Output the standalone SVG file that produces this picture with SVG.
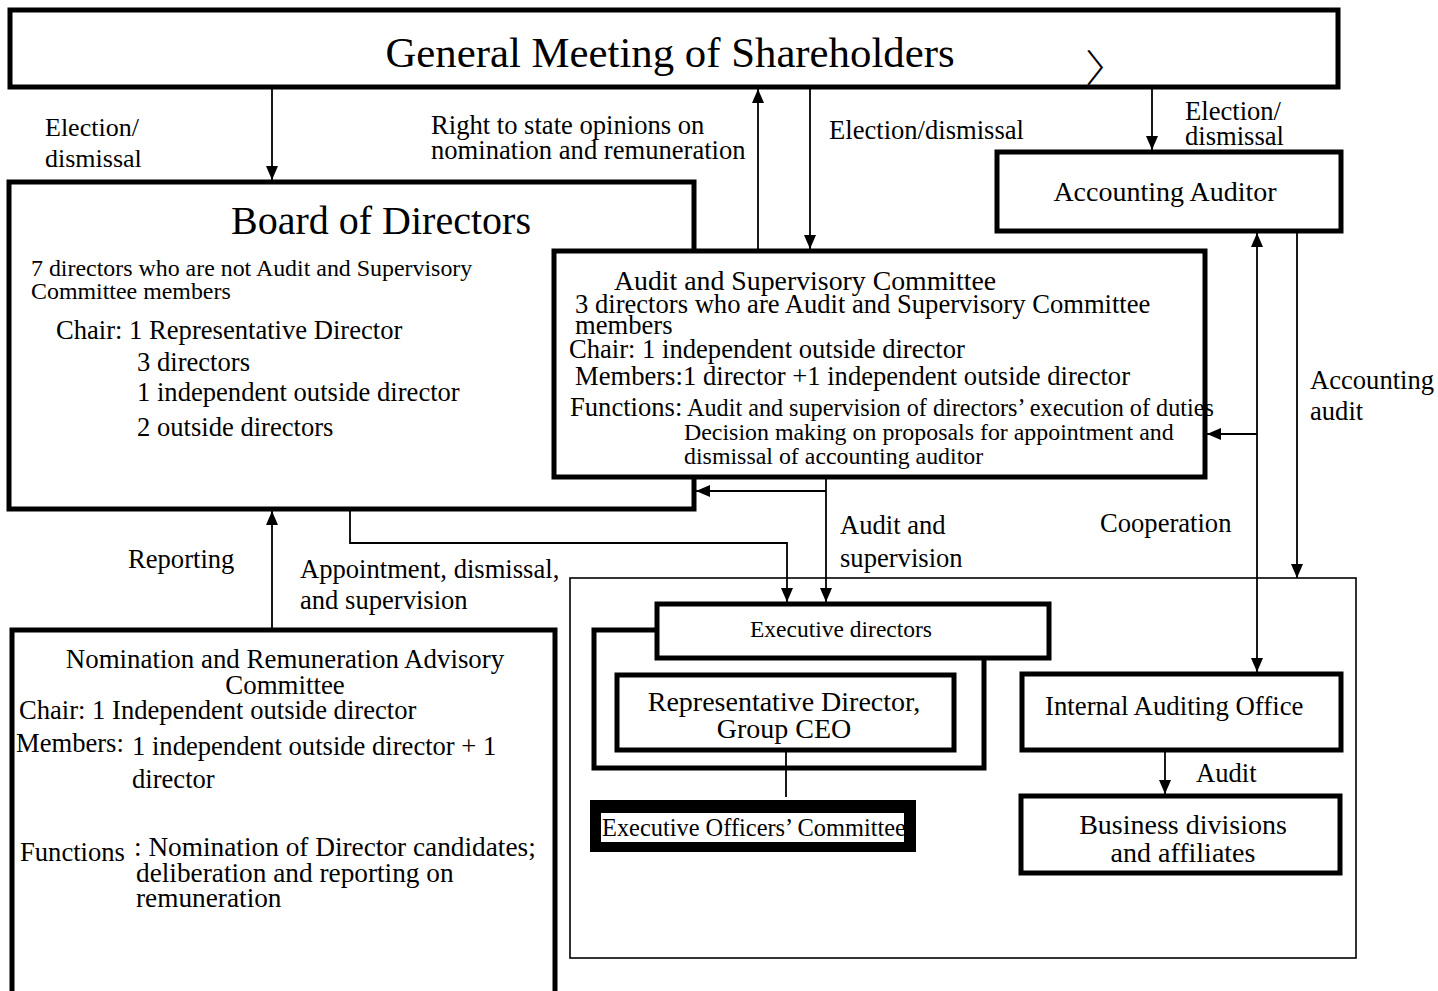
<svg xmlns="http://www.w3.org/2000/svg" width="1438" height="991" viewBox="0 0 1438 991">
<defs>
<marker id="ah" markerUnits="userSpaceOnUse" markerWidth="14" markerHeight="12" refX="14" refY="6" orient="auto-start-reverse">
<path d="M0,0 L14,6 L0,12 z" fill="#000"/>
</marker>
<style>
text{font-family:"Liberation Serif","Times New Roman",serif;fill:#000}
.box{fill:#fff;stroke:#000;stroke-width:5}
.thin{fill:none;stroke:#000;stroke-width:1.6}
.c{fill:none;stroke:#000;stroke-width:1.8}
.a{marker-end:url(#ah)}
.t26{font-size:26.6px}
.t28{font-size:28px}
.mid{text-anchor:middle}
</style>
</defs>
<rect width="1438" height="991" fill="#fff"/>

<g id="general-meeting">
<rect class="box" x="10" y="10" width="1328" height="77"/>
<text x="670" y="67" class="mid" font-size="42.8">General Meeting of Shareholders</text>
<text transform="translate(1085,82) scale(1.2,1)" font-size="38" style="font-family:'Noto Sans CJK JP',sans-serif;font-weight:300">〉</text>
</g>

<g id="accounting-auditor">
<rect class="box" x="997" y="152" width="344" height="79"/>
<text x="1165" y="201" class="mid t28">Accounting Auditor</text>
</g>

<g id="board">
<rect class="box" x="9" y="182" width="685" height="327"/>
<text x="381" y="234" class="mid" font-size="40">Board of Directors</text>
<text x="31" y="276" font-size="23.9">7 directors who are not Audit and Supervisory</text>
<text x="31" y="299" font-size="23.9">Committee members</text>
<text x="56" y="339" class="t26">Chair: 1 Representative Director</text>
<text x="137" y="371" class="t26">3 directors</text>
<text x="137" y="401" class="t26">1 independent outside director</text>
<text x="137" y="436" class="t26">2 outside directors</text>
</g>

<g id="audit-supervisory-committee">
<rect class="box" x="554" y="251" width="651" height="226"/>
<text x="614" y="290" font-size="27.8">Audit and Supervisory Committee</text>
<text x="575" y="313" class="t26">3 directors who are Audit and Supervisory Committee</text>
<text x="575" y="334" class="t26">members</text>
<text x="569" y="358" class="t26">Chair: 1 independent outside director</text>
<text x="575" y="385" class="t26">Members:</text>
<text x="683" y="385" class="t26">1 director +1 independent outside director</text>
<text x="570" y="416" class="t26">Functions:</text>
<text x="687" y="416" font-size="24.2">Audit and supervision of directors’ execution of duties</text>
<text x="684" y="440" font-size="23.9">Decision making on proposals for appointment and</text>
<text x="684" y="464" font-size="23.9">dismissal of accounting auditor</text>
</g>

<g id="nomination-committee">
<rect class="box" x="12" y="630" width="543" height="380"/>
<text x="285" y="668" class="mid" font-size="26.9">Nomination and Remuneration Advisory</text>
<text x="285" y="694" class="mid" font-size="26.9">Committee</text>
<text x="19" y="719" class="t26">Chair: 1 Independent outside director</text>
<text x="16" y="752" class="t26">Members:</text>
<text x="132" y="755" class="t26">1 independent outside director + 1</text>
<text x="132" y="788" class="t26">director</text>
<text x="20" y="861" class="t26">Functions</text>
<text x="134" y="856" font-size="27.3">: Nomination of Director candidates;</text>
<text x="136" y="882" font-size="27.3">deliberation and reporting on</text>
<text x="136" y="907" font-size="27.3">remuneration</text>
</g>

<g id="execution-area">
<rect class="thin" x="570" y="578" width="786" height="380"/>
</g>

<g id="executive-frame">
<rect class="box" x="594" y="630" width="390" height="138"/>
</g>

<g id="executive-directors">
<rect class="box" x="657" y="604" width="392" height="54"/>
<text x="841" y="637" class="mid" font-size="23.5">Executive directors</text>
</g>

<g id="representative-director">
<rect class="box" x="617" y="675" width="337" height="75"/>
<text x="784" y="711" class="mid t28">Representative Director,</text>
<text x="784" y="738" class="mid t28">Group CEO</text>
</g>

<g id="executive-officers-committee">
<rect x="590" y="800" width="326" height="52" fill="#000"/>
<rect x="601" y="813" width="303" height="29" fill="#fff"/>
<text x="602" y="836" font-size="24.4">Executive Officers’ Committee</text>
</g>

<g id="internal-auditing-office">
<rect class="box" x="1022" y="674" width="319" height="76"/>
<text x="1045" y="715" font-size="26.8">Internal Auditing Office</text>
</g>

<g id="business-divisions">
<rect class="box" x="1021" y="796" width="319" height="77"/>
<text x="1183" y="834" class="mid t28">Business divisions</text>
<text x="1183" y="862" class="mid t28">and affiliates</text>
</g>

<g id="connectors">
<line class="c a" x1="272" y1="89" x2="272" y2="180"/>
<line class="c a" x1="272" y1="628" x2="272" y2="511"/>
<line class="c a" x1="758" y1="249" x2="758" y2="89"/>
<line class="c a" x1="810" y1="89" x2="810" y2="249"/>
<line class="c a" x1="1152" y1="89" x2="1152" y2="150"/>
<line class="c" x1="1257" y1="233" x2="1257" y2="672" style="marker-start:url(#ah);marker-end:url(#ah)"/>
<line class="c a" x1="1257" y1="434" x2="1207" y2="434"/>
<line class="c a" x1="1297" y1="233" x2="1297" y2="578"/>
<line class="c a" x1="826" y1="479" x2="826" y2="602"/>
<line class="c a" x1="826" y1="491" x2="696" y2="491"/>
<path class="c a" d="M350,511 V543 H787 V602"/>
<line class="c a" x1="1165" y1="752" x2="1165" y2="794"/>
<line class="c" x1="786" y1="752" x2="786" y2="797"/>

<text x="45" y="136" font-size="26">Election/</text>
<text x="45" y="167" font-size="26">dismissal</text>
<text x="431" y="134" class="t26">Right to state opinions on</text>
<text x="431" y="159" class="t26">nomination and remuneration</text>
<text x="829" y="139" class="t26">Election/dismissal</text>
<text x="1185" y="120" class="t26">Election/</text>
<text x="1185" y="145" class="t26">dismissal</text>
<text x="1310" y="389" class="t26">Accounting</text>
<text x="1310" y="420" class="t26">audit</text>
<text x="1100" y="532" class="t26">Cooperation</text>
<text x="840" y="534" class="t26">Audit and</text>
<text x="840" y="567" class="t26">supervision</text>
<text x="128" y="568" class="t26">Reporting</text>
<text x="300" y="578" class="t26">Appointment, dismissal,</text>
<text x="300" y="609" class="t26">and supervision</text>
<text x="1196" y="782" class="t26">Audit</text>
</g>
</svg>
